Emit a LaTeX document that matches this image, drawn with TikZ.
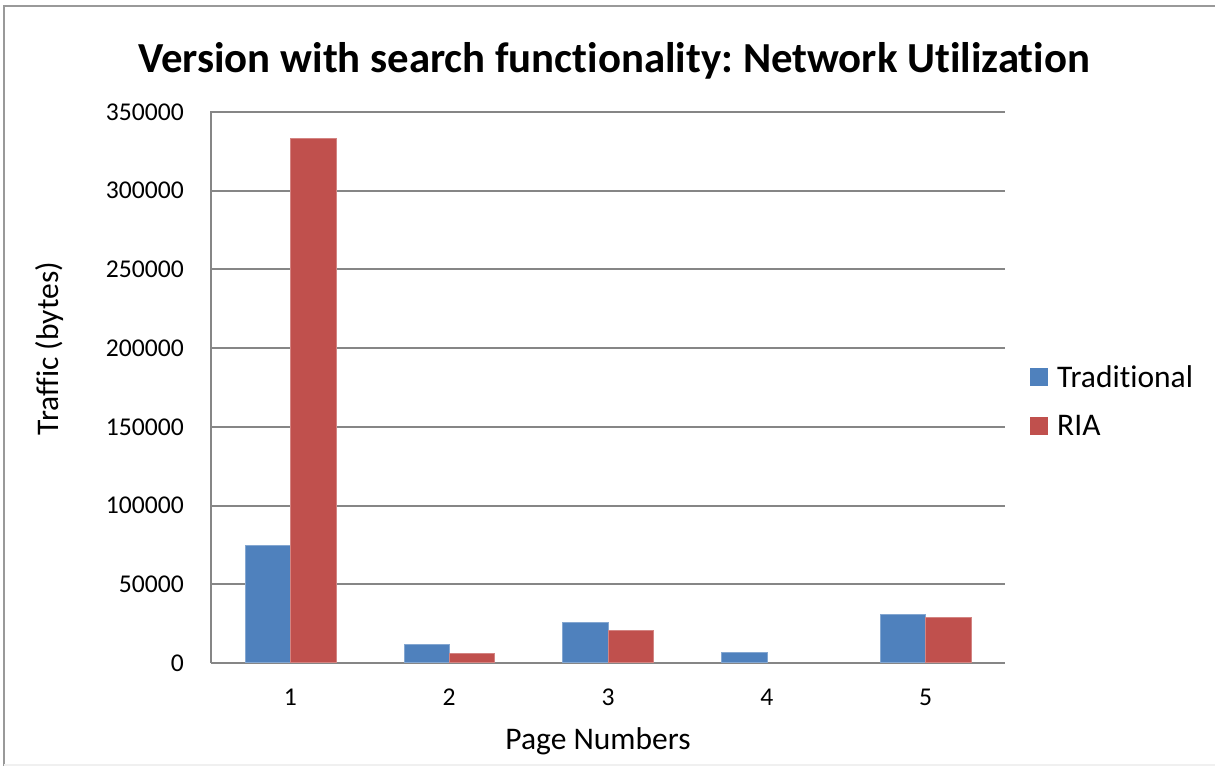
\documentclass[tikz,border=0pt]{standalone}
\usepackage{fontspec}
\setmainfont{Carlito}[Ligatures=NoCommon]
\frenchspacing
\definecolor{tradblue}{HTML}{4F81BD}
\definecolor{riared}{HTML}{C0504D}
\definecolor{gridgray}{HTML}{868686}
\begin{document}
\begin{tikzpicture}[x=1pt,y=-1pt,
  gridline/.style={draw=gridgray,line width=2pt},
  tradbar/.style={fill=tradblue,draw=tradblue!70!white,line width=0.6pt},
  riabar/.style={fill=riared,draw=riared!70!white,line width=0.6pt},
  ticklab/.style={font=\fontsize{25.6}{30}\selectfont,inner sep=0pt},
  axlab/.style={font=\fontsize{31.5}{36}\selectfont,inner sep=0pt},
  leglab/.style={font=\fontsize{31.5}{36}\selectfont,inner sep=0pt,anchor=base west}]
\useasboundingbox (0,0) rectangle (1215,766);
\fill[white] (0,0) rectangle (1215,766);
% frame
\draw[draw=gray!80,line width=2pt] (4,766) -- (4,6) -- (1215,6);
\draw[draw=gray!12,line width=1.5pt] (4,765) -- (1215,765);
% title
\node[font=\bfseries\fontsize{42.8}{48}\selectfont,inner sep=0pt,anchor=base] (title) at (614,72) {Version with search functionality: Network Utilization};
% gridlines and y tick labels
\foreach \v [count=\i from 0] in {0,50000,100000,150000,200000,250000,300000,350000}{
  \pgfmathsetmacro{\yy}{663-\i*78.714}
  \draw[gridline] (211,\yy) -- (1005,\yy);
  \node[ticklab,anchor=east] (yt\i) at (184,\yy) {\v};
}
% y axis
\draw[gridline] (211,663) -- (211,111);
% bars (values in thousands of bytes)
\foreach \t/\r [count=\c from 0] in {75/333,11.9/6.4,26/20.8,6.8/0,31.1/29.2}{
  \pgfmathsetmacro{\cx}{211+79.4+\c*158.8}
  \pgfmathsetmacro{\ty}{663-\t*1.5742857}
  \pgfmathsetmacro{\ry}{663-\r*1.5742857}
  \path[tradbar] (\cx-45.4,662) rectangle (\cx,\ty);
  \ifdim\r pt>0pt
    \path[riabar] (\cx,662) rectangle (\cx+45.4,\ry);
  \fi
  \pgfmathtruncatemacro{\lab}{\c+1}
  \node[ticklab] (xt\c) at (\cx,697) {\lab};
}
% axis titles
\node[axlab,rotate=90] (ylab) at (50,348.5) {Traffic (bytes)};
\node[axlab,anchor=base] (xlab) at (598,749) {Page Numbers};
% legend
\path[fill=tradblue] (1030,368) rectangle (1048,386);
\node[leglab] (legT) at (1057,387) {Traditional};
\path[fill=riared] (1030,417) rectangle (1048,435);
\node[leglab] (legR) at (1057,435) {RIA};
\end{tikzpicture}
\end{document}
